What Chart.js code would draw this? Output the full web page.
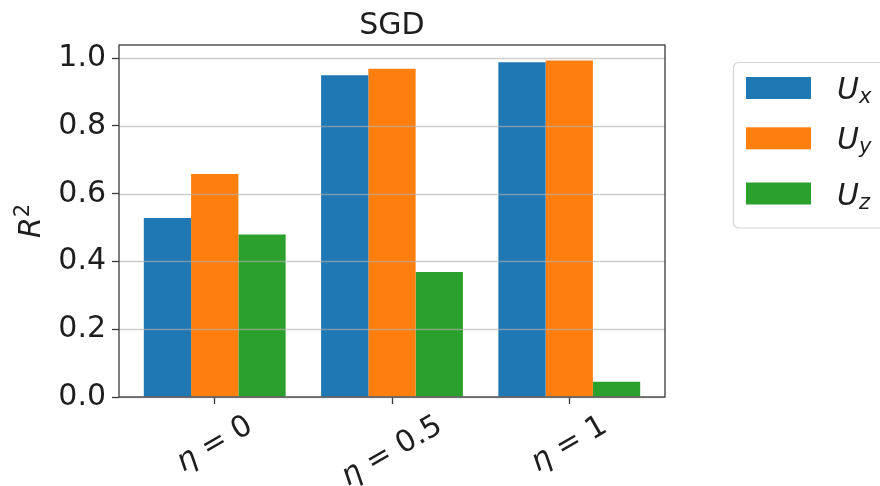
<!DOCTYPE html>
<html>
<head>
<meta charset="utf-8">
<script src="https://cdn.jsdelivr.net/npm/chart.js@4.4.0/dist/chart.umd.min.js"></script>
<style>
  html, body { margin: 0; padding: 0; background: #ffffff; }
  #wrap { width: 880px; height: 486px; position: relative; }
</style>
</head>
<body>
<div id="wrap"><canvas id="c" width="880" height="486"></canvas></div>
<script>
// η values on the x axis
const categories = ['0', '0.5', '1'];
// velocity components (subscripts of U)
const seriesNames = ['x', 'y', 'z'];
// R² scores per component
const uxValues = [0.528, 0.950, 0.988];
const uyValues = [0.658, 0.969, 0.993];
const uzValues = [0.480, 0.369, 0.045];
const yTicks = [0, 0.2, 0.4, 0.6, 0.8, 1.0];
const chartTitle = 'SGD';

const colors = ['#1f77b4', '#ff7f0e', '#2ca02c'];
const FONT = '"DejaVu Sans", sans-serif';
const FS = 30;
const FS_SMALL = 21;
const TEXT = '#1e1e1e';

const seriesValues = [uxValues, uyValues, uzValues];
const datasets = seriesValues.map((vals, k) => ({
  label: 'U' + seriesNames[k],
  data: vals.map((v, i) => ({ x: i, y: v })),
  backgroundColor: colors[k],
  borderWidth: 0,
  categoryPercentage: 0.8,
  barPercentage: 1.0
}));

// draw a sequence of text runs with different fonts, starting at x
function runWidth(ctx, runs) {
  let w = 0;
  for (const r of runs) { ctx.font = r.font; w += ctx.measureText(r.t).width; }
  return w;
}
function drawRuns(ctx, runs, x, y) {
  for (const r of runs) {
    ctx.font = r.font;
    ctx.fillText(r.t, x, y + (r.dy || 0));
    x += ctx.measureText(r.t).width;
  }
}

const decorations = {
  id: 'decorations',
  afterDatasetsDraw(chart) {
    const ctx = chart.ctx;
    const a = chart.chartArea;
    const ys = chart.scales.y;
    ctx.save();
    // horizontal grid over the bars
    ctx.strokeStyle = 'rgba(176,176,176,0.62)';
    ctx.lineWidth = 1.6;
    for (const v of yTicks) {
      const y = Math.round(ys.getPixelForValue(v)) + 0.5;
      ctx.beginPath(); ctx.moveTo(a.left, y); ctx.lineTo(a.right, y); ctx.stroke();
    }
    // axes frame
    ctx.strokeStyle = '#3a3a3a';
    ctx.lineWidth = 1.3;
    ctx.strokeRect(a.left, a.top, a.right - a.left, a.bottom - a.top);
    ctx.restore();
  },
  afterDraw(chart) {
    const ctx = chart.ctx;
    const a = chart.chartArea;
    const xs = chart.scales.x;
    ctx.save();
    ctx.fillStyle = TEXT;

    // title
    ctx.font = FS + 'px ' + FONT;
    ctx.textAlign = 'center';
    ctx.textBaseline = 'alphabetic';
    ctx.fillText(chartTitle, (a.left + a.right) / 2, 34);

    // y-axis label R²
    ctx.textAlign = 'left';
    const rRuns = [
      { t: 'R', font: 'italic ' + FS + 'px ' + FONT },
      { t: '2', font: FS_SMALL + 'px ' + FONT, dy: -11 }
    ];
    ctx.save();
    ctx.translate(40, (a.top + a.bottom) / 2);
    ctx.rotate(-Math.PI / 2);
    drawRuns(ctx, rRuns, -runWidth(ctx, rRuns) / 2, 0);
    ctx.restore();

    // rotated x tick labels, centred under each tick
    const ang = Math.PI / 6;
    categories.forEach((c, i) => {
      const runs = [
        { t: 'η', font: 'italic ' + FS + 'px ' + FONT },
        { t: ' = ', font: FS + 'px ' + FONT },
        { t: c, font: FS + 'px ' + FONT }
      ];
      const w = runWidth(ctx, runs);
      const h = FS * 1.0;
      const H = w * Math.sin(ang) + h * Math.cos(ang);
      const cx = xs.getPixelForValue(i);
      const cy = 411 + H / 2;
      ctx.save();
      ctx.translate(cx, cy);
      ctx.rotate(-ang);
      ctx.textBaseline = 'middle';
      drawRuns(ctx, runs, -w / 2, 0);
      ctx.restore();
    });

    // legend
    ctx.beginPath();
    ctx.roundRect(733.5, 62.5, 170, 165.5, 5);
    ctx.fillStyle = 'rgba(255,255,255,0.8)';
    ctx.fill();
    ctx.strokeStyle = '#d6d6d6';
    ctx.lineWidth = 1.2;
    ctx.stroke();
    const rows = [88, 138.3, 193.5];
    chart.data.datasets.forEach((ds, k) => {
      const yc = rows[k];
      ctx.fillStyle = ds.backgroundColor;
      ctx.fillRect(746, yc - 11, 65, 22);
      ctx.fillStyle = TEXT;
      ctx.textBaseline = 'alphabetic';
      drawRuns(ctx, [
        { t: 'U', font: 'italic ' + FS + 'px ' + FONT },
        { t: seriesNames[k], font: 'italic ' + FS_SMALL + 'px ' + FONT, dy: 4 }
      ], 837, yc + 11);
    });
    ctx.restore();
  }
};

new Chart(document.getElementById('c'), {
  type: 'bar',
  data: { datasets },
  plugins: [decorations],
  options: {
    responsive: false,
    animation: false,
    devicePixelRatio: 1,
    layout: { padding: { top: 45, right: 215, left: 0, bottom: 0 } },
    plugins: { legend: { display: false }, title: { display: false }, tooltip: { enabled: false } },
    scales: {
      x: {
        type: 'linear',
        min: -0.54,
        max: 2.54,
        offset: false,
        afterBuildTicks(axis) { axis.ticks = categories.map((_, i) => ({ value: i })); },
        afterFit(axis) { axis.height = 89; },
        ticks: { display: false },
        grid: { display: true, drawOnChartArea: false, drawTicks: true, tickLength: 7,
                tickColor: '#3a3a3a', tickWidth: 1.3, offset: false },
        border: { display: false }
      },
      y: {
        type: 'linear',
        min: 0,
        max: 1.039,
        afterBuildTicks(axis) { axis.ticks = yTicks.map(v => ({ value: v })); },
        afterFit(axis) { axis.width = 119; },
        ticks: {
          font: { family: FONT, size: FS },
          color: TEXT,
          padding: 6,
          callback: v => Number(v).toFixed(1)
        },
        grid: { display: true, drawOnChartArea: false, drawTicks: true, tickLength: 7,
                tickColor: '#3a3a3a', tickWidth: 1.3 },
        border: { display: false }
      }
    }
  }
});
</script>
</body>
</html>
